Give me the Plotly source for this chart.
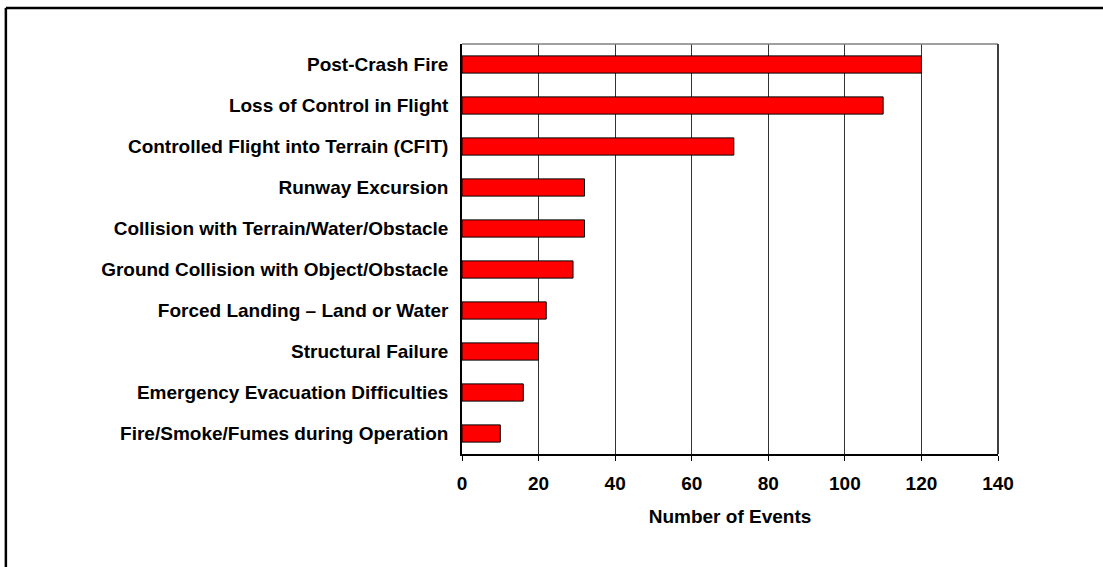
import plotly.graph_objects as go

# Event categories, listed top to bottom
categories = [
    "Post-Crash Fire",
    "Loss of Control in Flight",
    "Controlled Flight into Terrain (CFIT)",
    "Runway Excursion",
    "Collision with Terrain/Water/Obstacle",
    "Ground Collision with Object/Obstacle",
    "Forced Landing \u2013 Land or Water",
    "Structural Failure",
    "Emergency Evacuation Difficulties",
    "Fire/Smoke/Fumes during Operation",
]
events = [120, 110, 71, 32, 32, 29, 22, 20, 16, 10]
x_ticks = [0, 20, 40, 60, 80, 100, 120, 140]

FONT = "Liberation Sans, Arial, sans-serif"
FSIZE = 19

fig = go.Figure(
    go.Bar(
        x=events,
        y=categories,
        orientation="h",
        marker=dict(color="#FF0000", line=dict(color="#000000", width=1)),
    )
)

fig.update_layout(
    width=1103,
    height=567,
    margin=dict(l=462, r=105, t=44, b=113),
    paper_bgcolor="white",
    plot_bgcolor="white",
    bargap=0.58,
    showlegend=False,
    font=dict(family=FONT, size=FSIZE, color="black"),
    shapes=[
        # outer frame: top and left edges, running off the page
        dict(type="line", xref="paper", yref="paper",
             x0=-0.851, x1=1.2, y0=1.088, y1=1.088,
             line=dict(color="black", width=2.5)),
        dict(type="line", xref="paper", yref="paper",
             x0=-0.851, x1=-0.851, y0=1.088, y1=-0.28,
             line=dict(color="black", width=2.5)),
        # top and right plot border
        dict(type="line", xref="paper", yref="paper",
             x0=0, x1=1, y0=1, y1=1,
             line=dict(color="#808080", width=1.5)),
        dict(type="line", xref="paper", yref="paper",
             x0=1, x1=1, y0=0, y1=1,
             line=dict(color="#404040", width=2)),
    ],
)

fig.update_xaxes(
    range=[0, 140],
    tickvals=x_ticks,
    ticktext=[str(v) for v in x_ticks],
    showgrid=True,
    gridcolor="#333333",
    gridwidth=1,
    showline=True,
    linecolor="black",
    linewidth=1.5,
    ticks="outside",
    ticklen=5,
    tickcolor="black",
    tickfont=dict(family=FONT, size=FSIZE, color="black", weight="bold"),
    ticklabelstandoff=6,
    zeroline=False,
    title=dict(text="<b>Number of Events</b>",
               font=dict(family=FONT, size=FSIZE, color="black"),
               standoff=17),
    fixedrange=True,
)

fig.update_yaxes(
    categoryorder="array",
    categoryarray=categories[::-1],
    showgrid=False,
    showline=True,
    linecolor="black",
    linewidth=1.5,
    ticks="",
    tickfont=dict(family=FONT, size=FSIZE, color="black", weight="bold"),
    ticklabelstandoff=8,
    fixedrange=True,
)

fig.write_html("out.html")
